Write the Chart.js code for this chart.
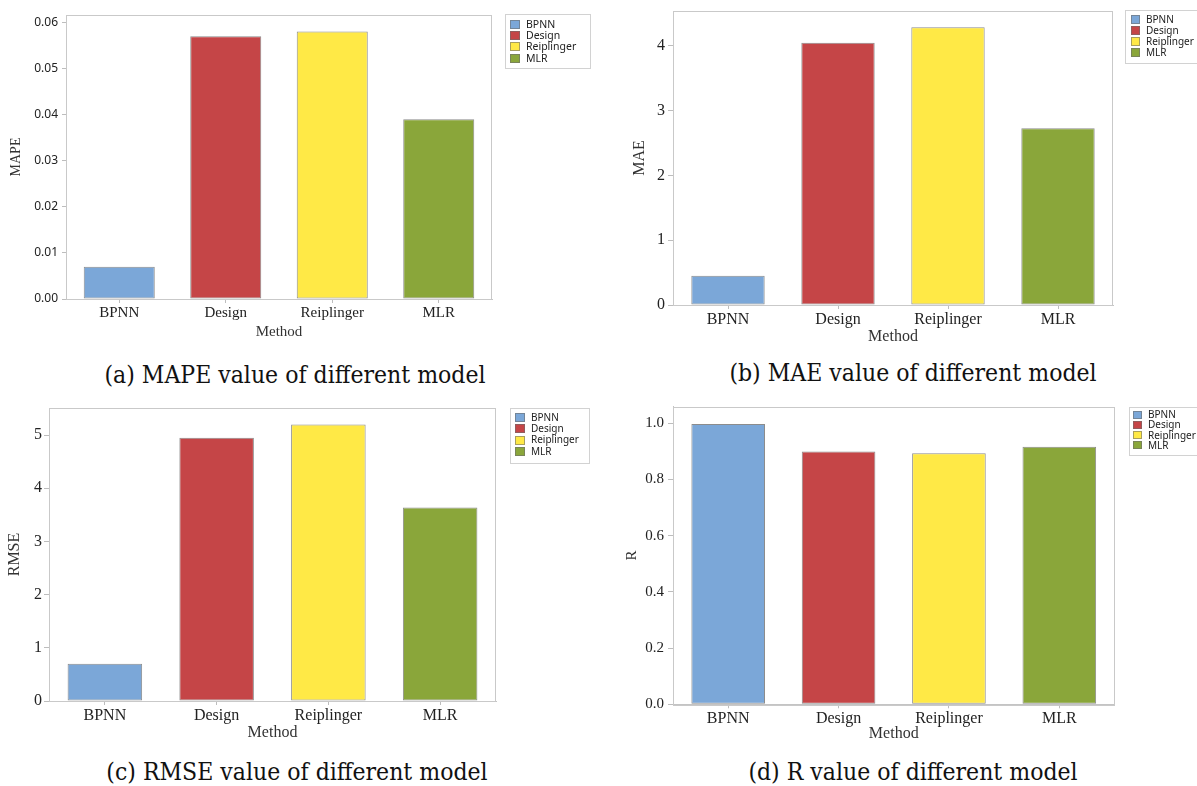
<!DOCTYPE html>
<html>
<head>
<meta charset="utf-8">
<title>Model error comparison</title>
<script src="https://cdn.jsdelivr.net/npm/chart.js@4.4.1/dist/chart.umd.min.js"></script>
<style>
  html, body { margin: 0; padding: 0; background: #ffffff; }
  body { width: 1197px; height: 786px; position: relative; overflow: hidden; }
  canvas { position: absolute; }
  .caption {
    position: absolute;
    font-family: "DejaVu Serif", serif;
    font-size: 24.5px;
    color: #111;
    white-space: nowrap;
    transform: translate(-50%, -50%) scaleX(0.9);
    line-height: 1;
  }
</style>
</head>
<body>
<canvas id="mapeChart" width="600" height="346" style="left:0;top:0"></canvas>
<canvas id="maeChart" width="597" height="346" style="left:600px;top:0"></canvas>
<canvas id="rmseChart" width="600" height="350" style="left:0;top:395px"></canvas>
<canvas id="rChart" width="597" height="350" style="left:600px;top:395px"></canvas>

<div class="caption" style="left:295px;top:375px">(a) MAPE value of different model</div>
<div class="caption" style="left:913px;top:373px">(b) MAE value of different model</div>
<div class="caption" style="left:297px;top:772px">(c) RMSE value of different model</div>
<div class="caption" style="left:913px;top:772px">(d) R value of different model</div>

<script>
// Methods compared
const methods = ['BPNN', 'Design', 'Reiplinger', 'MLR'];

// Error / fit metrics per method
const mapeValues = [0.007, 0.057, 0.058, 0.039];
const maeValues  = [0.45, 4.05, 4.29, 2.73];
const rmseValues = [0.70, 4.95, 5.20, 3.64];
const rValues    = [0.998, 0.900, 0.894, 0.917];

// Y axis ticks for each metric
const mapeTicks = [0, 0.01, 0.02, 0.03, 0.04, 0.05, 0.06];
const maeTicks  = [0, 1, 2, 3, 4];
const rmseTicks = [0, 1, 2, 3, 4, 5];
const rTicks    = [0, 0.2, 0.4, 0.6, 0.8, 1.0];

const methodColors = ['#7ba7d8', '#c54547', '#ffe946', '#8aa63a'];

const SERIF = '"Liberation Serif", "Times New Roman", serif';
const SANS = '"Noto Sans", "Open Sans", sans-serif';

// Light frame around the plotting area
const plotFrame = {
  id: 'plotFrame',
  beforeDatasetsDraw(chart) {
    const { ctx, chartArea: a } = chart;
    ctx.save();
    ctx.strokeStyle = '#c9c9c9';
    ctx.lineWidth = 1;
    ctx.strokeRect(Math.round(a.left) + 0.5, Math.round(a.top) + 0.5,
                   Math.round(a.right - a.left) - 1, Math.round(a.bottom - a.top));
    ctx.restore();
  }
};

// Boxed legend listing each method with its colour, placed right of the plot
const boxLegend = {
  id: 'boxLegend',
  afterDraw(chart, args, o) {
    const { ctx, chartArea } = chart;
    const labels = chart.data.labels;
    const colors = chart.data.datasets[0].backgroundColor;
    const x0 = Math.round(chartArea.right + o.gap);
    const y0 = Math.round(chartArea.top + o.dy);
    ctx.save();
    ctx.font = o.fontSize + 'px ' + SANS;
    const textW = Math.max(...labels.map(l => ctx.measureText(l).width));
    const w = Math.round(o.padX + o.boxW + o.textGap + textW + o.padRight);
    const h = Math.round(o.padTop + labels.length * o.row + o.padBottom);
    ctx.strokeStyle = '#d2d2d2';
    ctx.lineWidth = 1;
    ctx.strokeRect(x0 + 0.5, y0 + 0.5, w, h);
    labels.forEach((label, i) => {
      const cy = y0 + o.padTop + o.row * (i + 0.5);
      const bx = x0 + o.padX;
      const by = Math.round(cy - o.boxH / 2);
      ctx.fillStyle = colors[i];
      ctx.fillRect(bx, by, o.boxW, o.boxH);
      ctx.strokeStyle = 'rgba(110,110,110,0.6)';
      ctx.strokeRect(bx + 0.5, by + 0.5, o.boxW - 1, o.boxH - 1);
      ctx.fillStyle = '#222';
      ctx.textBaseline = 'middle';
      ctx.textAlign = 'left';
      ctx.fillText(label, bx + o.boxW + o.textGap, cy + 0.5);
    });
    ctx.restore();
  }
};

function makeChart(id, cfg) {
  return new Chart(document.getElementById(id), {
    type: 'bar',
    data: {
      labels: methods,
      datasets: [{
        data: cfg.values,
        backgroundColor: methodColors,
        borderColor: '#8c8c8c',
        borderWidth: 1,
        borderSkipped: false,
        barPercentage: 0.667,
        categoryPercentage: 1.0
      }]
    },
    options: {
      responsive: false,
      animation: false,
      devicePixelRatio: 1,
      layout: { padding: cfg.padding },
      plugins: {
        legend: { display: false },
        tooltip: { enabled: false },
        boxLegend: cfg.legend
      },
      scales: {
        x: {
          grid: { offset: false, drawOnChartArea: false, tickLength: 4, color: '#bdbdbd' },
          border: { display: true, color: '#c4c4c4' },
          ticks: { color: '#222', padding: cfg.xTickPad, font: { family: SERIF, size: cfg.xTickSize } },
          title: {
            display: true, text: 'Method', color: '#333',
            font: { family: SERIF, size: cfg.xTitleSize, lineHeight: 1.2 },
            padding: { top: 0, bottom: cfg.xTitlePad }
          },
          afterFit(scale) { scale.height = cfg.xAxisHeight; }
        },
        y: {
          min: 0,
          max: cfg.max,
          afterBuildTicks(scale) { scale.ticks = cfg.ticks.map(v => ({ value: v })); },
          grid: { drawOnChartArea: false, tickLength: cfg.yTickLen, color: '#bdbdbd' },
          border: { display: true, color: '#c4c4c4' },
          ticks: {
            color: '#222',
            padding: cfg.yTickPad,
            font: { family: cfg.yTickFamily, size: cfg.yTickSize, lineHeight: 1 },
            callback: v => Number(v).toFixed(cfg.decimals)
          },
          title: {
            display: true, text: cfg.yTitle, color: '#333',
            font: { family: SERIF, size: cfg.yTitleSize, lineHeight: 1.2 },
            padding: { top: cfg.yTitlePad, bottom: 0 }
          },
          afterFit(scale) { scale.width = cfg.yAxisWidth; }
        }
      }
    },
    plugins: [plotFrame, boxLegend]
  });
}

// (a) MAPE
makeChart('mapeChart', {
  values: mapeValues, ticks: mapeTicks, max: 0.0616, decimals: 2,
  padding: { left: 0, top: 15, right: 108, bottom: 0 },
  yAxisWidth: 66, yTickLen: 4, yTickPad: 4, yTickFamily: SANS, yTickSize: 12,
  yTitle: 'MAPE', yTitleSize: 14, yTitlePad: 8,
  xAxisHeight: 47, xTickSize: 15, xTickPad: 1, xTitleSize: 15, xTitlePad: 5,
  legend: { gap: 13, dy: -1, padX: 5, boxW: 10, boxH: 9, textGap: 6, padRight: 14,
            padTop: 4.5, row: 11.3, padBottom: 4.5, fontSize: 10.5 }
});

// (b) MAE
makeChart('maeChart', {
  values: maeValues, ticks: maeTicks, max: 4.54, decimals: 0,
  padding: { left: 0, top: 9, right: 84, bottom: 0 },
  yAxisWidth: 73, yTickLen: 5, yTickPad: 3, yTickFamily: SERIF, yTickSize: 16,
  yTitle: 'MAE', yTitleSize: 16, yTitlePad: 30,
  xAxisHeight: 41, xTickSize: 16, xTickPad: 1, xTitleSize: 16, xTitlePad: 0,
  legend: { gap: 12, dy: -1, padX: 6, boxW: 9, boxH: 9, textGap: 6, padRight: 14,
            padTop: 4, row: 11.1, padBottom: 5, fontSize: 10 }
});

// (c) RMSE
makeChart('rmseChart', {
  values: rmseValues, ticks: rmseTicks, max: 5.51, decimals: 0,
  padding: { left: 0, top: 13, right: 104, bottom: 0 },
  yAxisWidth: 49, yTickLen: 5, yTickPad: 2, yTickFamily: SERIF, yTickSize: 16,
  yTitle: 'RMSE', yTitleSize: 16, yTitlePad: 5,
  xAxisHeight: 44, xTickSize: 16, xTickPad: 1, xTitleSize: 16, xTitlePad: 3,
  legend: { gap: 14, dy: 0, padX: 5, boxW: 10, boxH: 9, textGap: 6, padRight: 10,
            padTop: 4, row: 11.2, padBottom: 6, fontSize: 10 }
});

// (d) R
makeChart('rChart', {
  values: rValues, ticks: rTicks, max: 1.06, decimals: 1,
  padding: { left: 0, top: 10, right: 82.5, bottom: 0 },
  yAxisWidth: 73, yTickLen: 5, yTickPad: 4, yTickFamily: SERIF, yTickSize: 15,
  yTitle: 'R', yTitleSize: 15, yTitlePad: 23,
  xAxisHeight: 40.7, xTickSize: 16, xTickPad: 1, xTitleSize: 16, xTitlePad: 2,
  legend: { gap: 14, dy: 0, padX: 4, boxW: 9, boxH: 8, textGap: 6, padRight: 14,
            padTop: 3, row: 10.1, padBottom: 5, fontSize: 10 }
});
</script>
</body>
</html>
